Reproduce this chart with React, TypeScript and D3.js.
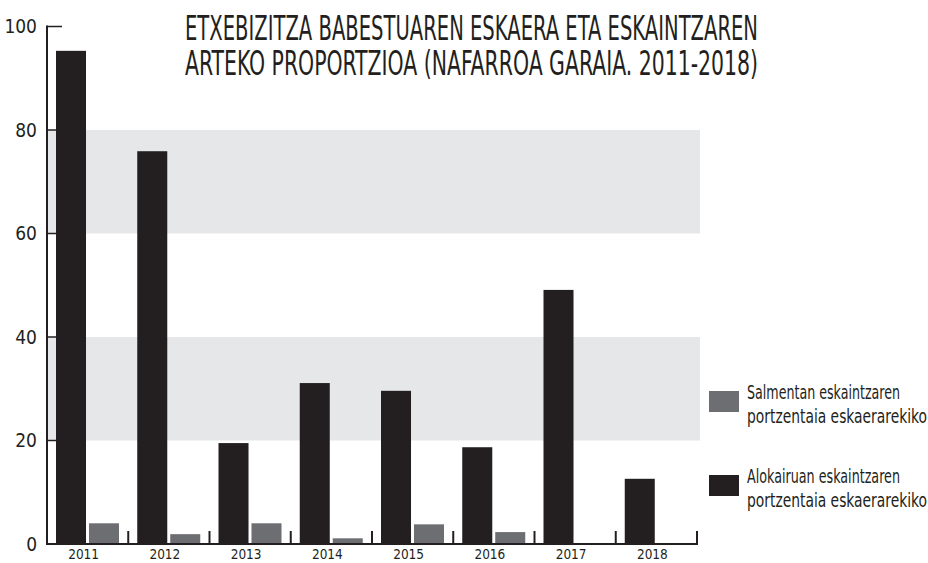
import React from "react";
import * as d3 from "d3";

const years = ["2011", "2012", "2013", "2014", "2015", "2016", "2017", "2018"];
const alokairua = [95.3, 75.9, 19.5, 31.1, 29.6, 18.7, 49.1, 12.6];
const salmenta = [4.0, 1.9, 4.0, 1.1, 3.8, 2.3, 0, 0];
const yTicks = [0, 20, 40, 60, 80, 100];
const bands = [[20, 40], [60, 80]];
const titleLines = [
  "ETXEBIZITZA BABESTUAREN ESKAERA ETA ESKAINTZAREN",
  "ARTEKO PROPORTZIOA (NAFARROA GARAIA. 2011-2018)",
];
const legendItems = [
  { key: "salm", lines: ["Salmentan eskaintzaren", "portzentaia eskaerarekiko"] },
  { key: "alok", lines: ["Alokairuan eskaintzaren", "portzentaia eskaerarekiko"] },
];

const DARK = "#231f20";
const GRAY = "#6d6e71";
const BAND = "#e6e7e8";
const FONT = "'Liberation Sans Narrow', 'DejaVu Sans Condensed', 'Open Sans', sans-serif";

export default function App() {
  const W = 928, H = 563;
  const x0 = 47, x1 = 697, yBase = 544;
  const y = d3.scaleLinear().domain([0, 100]).range([yBase, 26.5]);
  const x = d3.scaleBand().domain(years).range([x0, x1]).padding(0);
  const bw = x.bandwidth();
  const xs = d3.scaleBand().domain(["alok", "salm"]).range([9, 72]).paddingInner(0.09);
  const colors: Record<string, string> = { alok: DARK, salm: GRAY };

  return (
    <svg width={W} height={H} style={{ position: "absolute", left: 0, top: 0, background: "#fff" }}>
      {bands.map(([a, b], i) => (
        <rect key={i} x={x0} y={y(b)} width={700 - x0} height={y(a) - y(b)} fill={BAND} />
      ))}
      {years.map((yr, i) => (
        <g key={yr} transform={`translate(${x(yr)},0)`}>
          <rect x={xs("alok")} y={y(alokairua[i])} width={xs.bandwidth()} height={yBase - y(alokairua[i])} fill={DARK} />
          {salmenta[i] > 0 && (
            <rect x={xs("salm")} y={y(salmenta[i])} width={xs.bandwidth()} height={yBase - y(salmenta[i])} fill={GRAY} />
          )}
        </g>
      ))}
      <line x1={x0} x2={x0} y1={y(100) - 1} y2={yBase + 1} stroke={DARK} strokeWidth={2} />
      {yTicks.map((t) => (
        <g key={t}>
          <line x1={x0} x2={x0 + 15} y1={y(t)} y2={y(t)} stroke={DARK} strokeWidth={1.5} />
          <text x={37} y={y(t)} dy="0.35em" textAnchor="end" fontFamily={FONT} fontSize={19} fill={DARK}>
            {t}
          </text>
        </g>
      ))}
      <line x1={x0} x2={x1 + 1} y1={yBase} y2={yBase} stroke={DARK} strokeWidth={2} />
      {years.map((yr) => (
        <line key={yr} x1={(x(yr) as number) + bw} x2={(x(yr) as number) + bw} y1={yBase} y2={yBase - 13} stroke={DARK} strokeWidth={2} />
      ))}
      {years.map((yr) => (
        <text key={yr} x={(x(yr) as number) + bw / 2 - 4} y={559} textAnchor="middle" fontFamily={FONT} fontSize={13.5} fill={DARK}>
          {yr}
        </text>
      ))}
      {titleLines.map((l, i) => (
        <text key={i} x={185} y={40 + i * 35} fontFamily={FONT} fontSize={33} fill={DARK}
          textLength={573} lengthAdjust="spacingAndGlyphs">
          {l}
        </text>
      ))}
      {legendItems.map((it, i) => (
        <g key={it.key} transform={`translate(0,${i * 84})`}>
          <rect x={709} y={391} width={30} height={21} fill={colors[it.key]} />
          {it.lines.map((l, j) => (
            <text key={j} x={747} y={399 + j * 24} fontFamily={FONT} fontSize={19} fill={DARK}
              textLength={j === 0 ? 153 : 180} lengthAdjust="spacingAndGlyphs">
              {l}
            </text>
          ))}
        </g>
      ))}
    </svg>
  );
}
